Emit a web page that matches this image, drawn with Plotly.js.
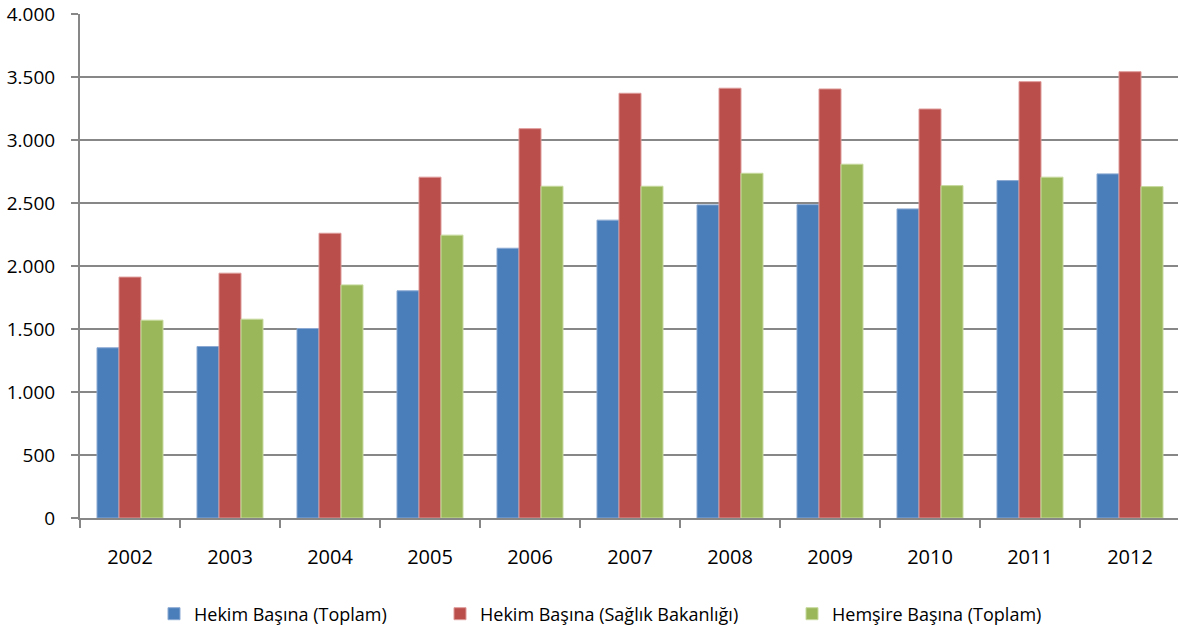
<!DOCTYPE html>
<html>
<head>
<meta charset="utf-8">
<script src="https://cdn.plot.ly/plotly-3.0.1.min.js"></script>
<style>
  html, body { margin: 0; padding: 0; background: #fff; }
  #chart { width: 1178px; height: 627px; }
</style>
</head>
<body>
<div id="chart"></div>
<script>
// Years on the category axis
const years = ['2002', '2003', '2004', '2005', '2006', '2007', '2008', '2009', '2010', '2011', '2012'];

// Series values
const hekimToplam = [1351, 1361, 1504, 1803, 2141, 2364, 2485, 2487, 2453, 2678, 2731];
const hekimBakanlik = [1912, 1943, 2260, 2705, 3090, 3371, 3411, 3405, 3246, 3463, 3542];
const hemsireToplam = [1570, 1578, 1850, 2245, 2633, 2633, 2736, 2808, 2638, 2705, 2630];

// Series names
const seriesNames = ['Hekim Başına (Toplam)', 'Hekim Başına (Sağlık Bakanlığı)', 'Hemşire Başına (Toplam)'];

// Y tick values
const yTicks = [0, 500, 1000, 1500, 2000, 2500, 3000, 3500, 4000];

const W = 1178, H = 627;
const fontFamily = '"Open Sans", "Noto Sans", sans-serif';

function barTrace(values, name, color, edge, legendId) {
  return {
    type: 'bar',
    x: years,
    y: values,
    name: name,
    legend: legendId,
    marker: { color: color, line: { color: edge, width: 1 } },
    hoverinfo: 'x+y+name'
  };
}

const data = [
  barTrace(hekimToplam, seriesNames[0], '#4A7EBB', '#8BA9D2', 'legend'),
  barTrace(hekimBakanlik, seriesNames[1], '#BA4E4B', '#DE9A98', 'legend2'),
  barTrace(hemsireToplam, seriesNames[2], '#9AB85A', '#C7DA9E', 'legend3')
];

// One legend per series, each placed on its own along the bottom row
function legendAt(px) {
  return {
    orientation: 'h',
    x: px / W, xref: 'container', xanchor: 'left',
    y: 1 - 614 / H, yref: 'container', yanchor: 'middle',
    font: { family: fontFamily, size: 18, color: '#000' },
    bgcolor: 'rgba(0,0,0,0)',
    borderwidth: 0
  };
}

const layout = {
  width: W,
  height: H,
  margin: { l: 80, r: 0, t: 14, b: H - 518 },
  paper_bgcolor: '#fff',
  plot_bgcolor: '#fff',
  separators: ',.',
  barmode: 'group',
  bargap: 0.34,
  bargroupgap: 0,
  showlegend: true,
  font: { family: fontFamily, color: '#000' },
  xaxis: {
    type: 'category',
    range: [-0.5, 10.48],
    tickson: 'boundaries',
    ticks: 'outside',
    ticklen: 8,
    tickwidth: 1.5,
    tickcolor: '#878787',
    showline: true,
    linecolor: '#878787',
    linewidth: 2,
    showgrid: false,
    ticklabelstandoff: 20,
    tickfont: { family: fontFamily, size: 20, color: '#000' }
  },
  yaxis: {
    range: [0, 4000],
    tickvals: yTicks,
    tickformat: ',d',
    ticks: 'outside',
    ticklen: 7,
    tickwidth: 1.5,
    tickcolor: '#878787',
    showline: true,
    linecolor: '#878787',
    linewidth: 2,
    showgrid: true,
    gridcolor: '#878787',
    gridwidth: 1.5,
    zeroline: false,
    ticklabelstandoff: 12,
    tickfont: { family: fontFamily, size: 19, color: '#000' }
  },
  legend: legendAt(154),
  legend2: legendAt(440),
  legend3: legendAt(792)
};

Plotly.newPlot('chart', data, layout, { displayModeBar: false, staticPlot: true });
</script>
</body>
</html>
